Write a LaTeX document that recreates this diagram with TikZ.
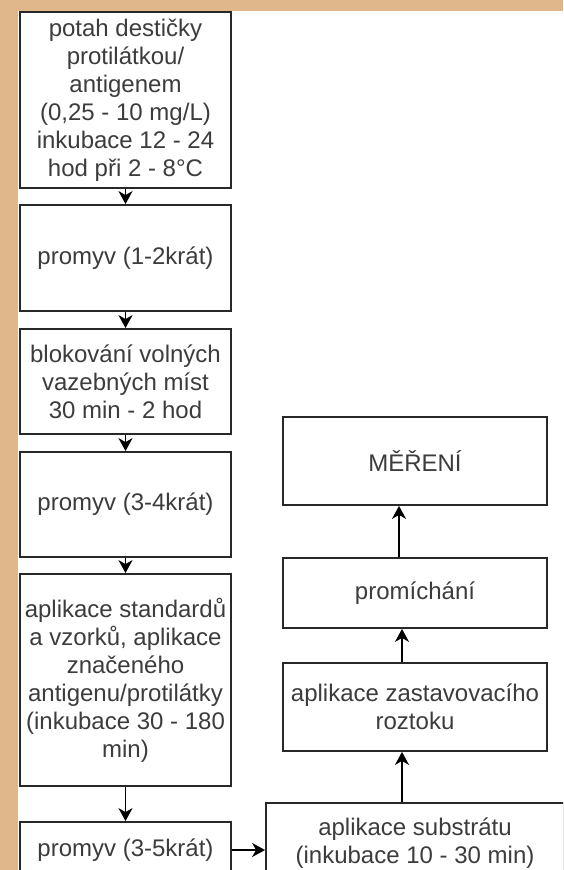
\documentclass[tikz,border=0pt]{standalone}
\usepackage{fontspec}
\setmainfont{Liberation Sans}
\usetikzlibrary{arrows.meta}
\definecolor{beige}{RGB}{224,183,138}
\definecolor{txt}{RGB}{60,60,60}
\definecolor{edge}{RGB}{40,40,40}
\begin{document}
\begin{tikzpicture}[x=1pt,y=-1pt,
  box/.style={draw=edge, line width=1.8pt, fill=white, align=center, text=txt,
    font=\fontsize{24}{28}\selectfont, inner sep=0pt},
  lbox/.style={box, minimum width=211pt},
  rbox/.style={box, minimum width=264pt},
  arr/.style={draw=black, line width=1.6pt, -{Stealth[length=13pt,width=14pt,inset=4pt]}}]
\useasboundingbox (0,0) rectangle (563,870);
\clip (0,0) rectangle (563,870);
\fill[beige] (0,0) rectangle (563,870);
\fill[white] (18,11) rectangle (563,870);

% left column
\node[lbox, minimum height=176pt] (b1) at (125.5,100) {potah destičky\\protilátkou/\\antigenem\\(0,25 - 10 mg/L)\\inkubace 12 - 24\\hod při 2 - 8°C};
\node[lbox, minimum height=106pt] (b2) at (125.5,258) {promyv (1-2krát)};
\node[lbox, minimum height=105pt] (b3) at (125.5,381.5) {blokování volných\\vazebných míst\\30 min - 2 hod};
\node[lbox, minimum height=105pt] (b4) at (125.5,504.5) {promyv (3-4krát)};
\node[lbox, minimum height=212pt] (b5) at (125.5,680) {aplikace standardů\\a vzorků, aplikace\\značeného\\antigenu/protilátky\\(inkubace 30 - 180\\min)};
\node[lbox, minimum height=56pt] (b6) at (125.5,850) {promyv (3-5krát)};

% right column
\node[box, minimum width=298pt, minimum height=80pt] (s1) at (415,843) {aplikace substrátu\\(inkubace 10 - 30 min)};
\node[rbox, minimum height=88pt] (s2) at (415,707) {aplikace zastavovacího\\roztoku};
\node[rbox, minimum height=70pt] (s3) at (415,593) {promíchání};
\node[rbox, minimum height=88pt] (s4) at (415,461) {MĚŘENÍ};

\coordinate (ax) at (402,0);
\coordinate (ay) at (399,0);

\draw[arr] (b1) -- (b2);
\draw[arr] (b2) -- (b3);
\draw[arr] (b3) -- (b4);
\draw[arr] (b4) -- (b5);
\draw[arr] (b5) -- (b6);
\draw[arr] (b6.east) -- (b6.east -| s1.west);
\draw[arr] (s1.north -| ax) -- (s2.south -| ax);
\draw[arr] (s2.north -| ax) -- (s3.south -| ax);
\draw[arr] (s3.north -| ay) -- (s4.south -| ay);
\end{tikzpicture}
\end{document}
